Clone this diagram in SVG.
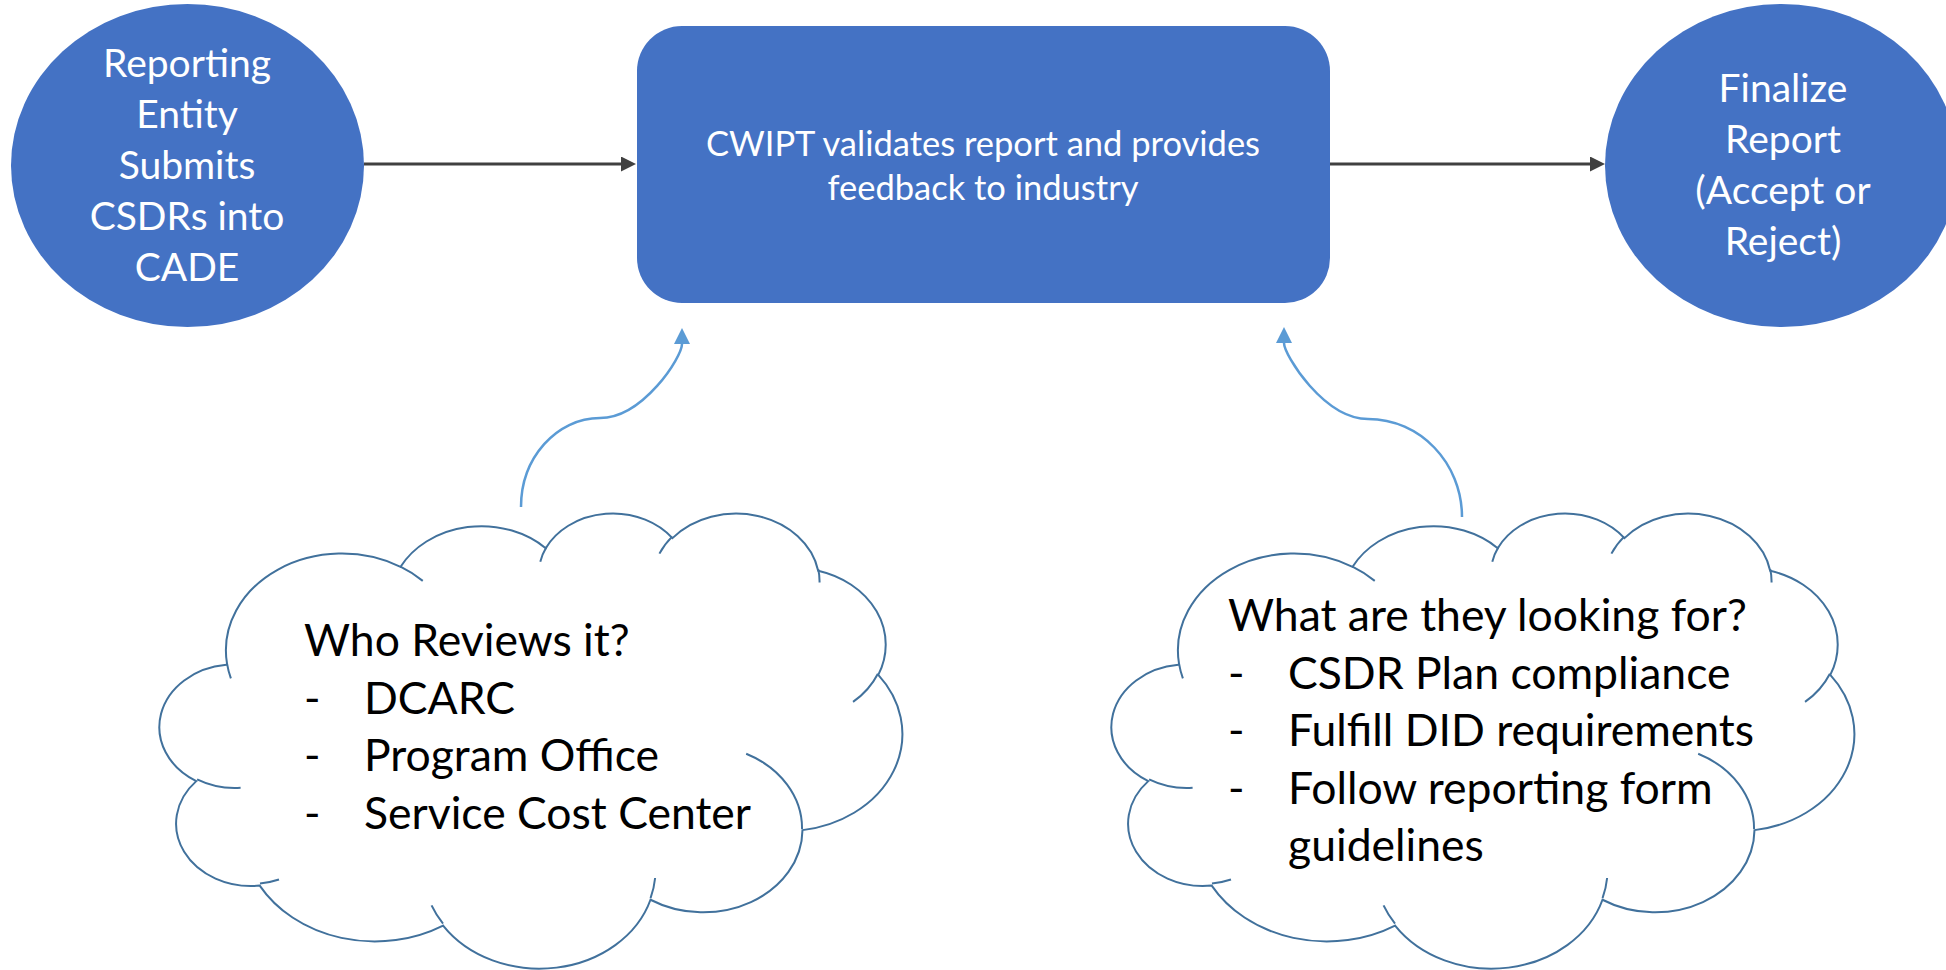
<svg xmlns="http://www.w3.org/2000/svg" xmlns:xlink="http://www.w3.org/1999/xlink" width="1946" height="970" viewBox="0 0 1946 970">
<style>
.step{fill:#4472C4;}
.wt{font-family:Lato,"Liberation Sans",sans-serif;fill:#FFFFFF;text-anchor:middle;}
.bt{font-family:Lato,"Liberation Sans",sans-serif;fill:#000000;font-size:44.5px;}
.cloud{fill:#FFFFFF;stroke:#41719C;stroke-width:2;vector-effect:non-scaling-stroke;}
.cloudin{fill:none;stroke:#41719C;stroke-width:2;vector-effect:non-scaling-stroke;}
.flow{fill:none;stroke:#404040;stroke-width:3;}
.curve{fill:none;stroke:#5B9BD5;stroke-width:2.5;}
</style>
<defs>
<marker id="ahDark" markerUnits="userSpaceOnUse" viewBox="0 0 15 15" markerWidth="15" markerHeight="15" refX="1" refY="7.5" orient="auto">
<path d="M0,0 L15,7.5 L0,15 z" fill="#404040"/>
</marker>
<marker id="ahBlue" markerUnits="userSpaceOnUse" viewBox="0 0 16 16" markerWidth="16" markerHeight="16" refX="0" refY="8" orient="auto">
<path d="M0,0 L16,8 L0,16 z" fill="#5B9BD5"/>
</marker>
<g id="cloudGeom">
<path class="cloud" d="M3900,14370 A6753,9190 0 0 1 14006,5203 A5333,7267 0 0 1 22457,3433 A4365,5945 0 0 1 29835,2482 A4857,6595 0 0 1 38320,5577 A5333,7273 0 0 1 41820,15462 A6775,9220 0 0 1 37406,30205 A5785,7867 0 0 1 28557,36815 A6752,9215 0 0 1 16482,39267 A7720,10543 0 0 1 5805,35471 A4360,5918 0 0 1 2112,25552 A4345,5945 0 0 1 3861,14508 Z"/>
<path class="cloudin" d="M4693,26177 A4345,5945 0 0 1 2160,25380 M6928,34899 A4360,5918 0 0 1 5820,35280 M16478,39090 A6752,9215 0 0 1 15810,37349 M28827,34751 A6752,9215 0 0 1 28560,36660 M34129,22954 A5785,7867 0 0 1 37381,30090 M41798,15354 A5333,7273 0 0 1 40349,18032 M38324,5426 A4857,6595 0 0 1 38400,6690 M29078,3952 A4857,6595 0 0 1 29820,2340 M22141,4720 A4365,5945 0 0 1 22500,3330 M14000,5192 A6753,9190 0 0 1 15299,6540 M4127,15789 A6753,9190 0 0 1 3900,14371"/>
</g>
</defs>
<rect width="1946" height="970" fill="#FFFFFF"/>

<g id="node-submit">
<ellipse class="step" cx="187.5" cy="165.5" rx="176.5" ry="161.5"/>
<text class="wt" font-size="39"><tspan x="187" y="77">Reporting</tspan><tspan x="187" y="128">Entity</tspan><tspan x="187" y="179">Submits</tspan><tspan x="187" y="230">CSDRs into</tspan><tspan x="187" y="281">CADE</tspan></text>
</g>

<g id="node-validate">
<rect class="step" x="637" y="26" width="693" height="277" rx="45" ry="45"/>
<text class="wt" font-size="34.5"><tspan x="983" y="156">CWIPT validates report and provides</tspan><tspan x="983" y="200">feedback to industry</tspan></text>
</g>

<g id="node-finalize">
<ellipse class="step" cx="1781.5" cy="165.5" rx="176.5" ry="161.5"/>
<text class="wt" font-size="39"><tspan x="1783" y="102">Finalize</tspan><tspan x="1783" y="153">Report</tspan><tspan x="1783" y="204">(Accept or</tspan><tspan x="1783" y="255">Reject)</tspan></text>
</g>

<g id="node-who">
<use xlink:href="#cloudGeom" transform="translate(160,512) scale(0.0171759,0.0105324)"/>
<text class="bt"><tspan x="304" y="656">Who Reviews it?</tspan></text>
<text class="bt"><tspan x="304" y="713.5">-</tspan><tspan x="364" y="713.5">DCARC</tspan></text>
<text class="bt"><tspan x="304" y="771">-</tspan><tspan x="364" y="771">Program Office</tspan></text>
<text class="bt"><tspan x="304" y="828.5">-</tspan><tspan x="364" y="828.5">Service Cost Center</tspan></text>
</g>

<g id="node-what">
<use xlink:href="#cloudGeom" transform="translate(1112,512) scale(0.0171759,0.0105324)"/>
<text class="bt"><tspan x="1228" y="631">What are they looking for?</tspan></text>
<text class="bt"><tspan x="1228" y="688.5">-</tspan><tspan x="1288" y="688.5">CSDR Plan compliance</tspan></text>
<text class="bt"><tspan x="1228" y="746">-</tspan><tspan x="1288" y="746">Fulfill DID requirements</tspan></text>
<text class="bt"><tspan x="1228" y="803.5">-</tspan><tspan x="1288" y="803.5">Follow reporting form</tspan></text>
<text class="bt"><tspan x="1288" y="861">guidelines</tspan></text>
</g>

<g id="connectors">
<path class="flow" d="M364,164 H622" marker-end="url(#ahDark)"/>
<path class="flow" d="M1330,164 H1591" marker-end="url(#ahDark)"/>
<path class="curve" d="M521,507 C521,458 556.4,418 600,418 C643,418 682,357 682,344" marker-end="url(#ahBlue)"/>
<path class="curve" d="M1462,517 C1462,463 1420,419 1368,419 C1324,419 1284,355 1284,343" marker-end="url(#ahBlue)"/>
</g>
</svg>
